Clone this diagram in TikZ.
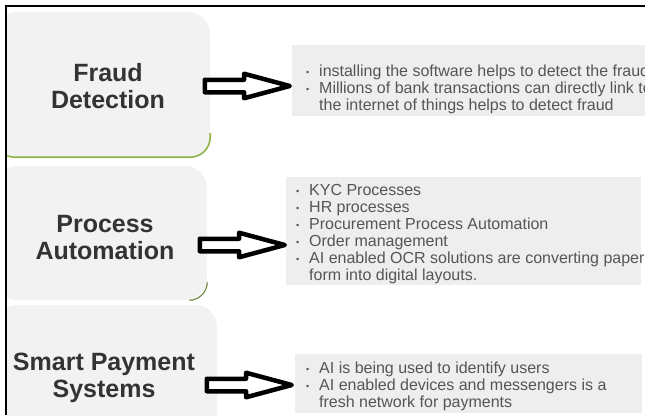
\documentclass[tikz,border=0pt]{standalone}
\usepackage{fontspec}
\setmainfont{Liberation Sans}
\usetikzlibrary{positioning,shapes.arrows}
\definecolor{boxgray}{HTML}{F2F2F2}
\definecolor{listgray}{HTML}{EEEEEE}
\definecolor{titlegray}{HTML}{333333}
\definecolor{textgray}{HTML}{555555}
\definecolor{edgegreen}{HTML}{8DB34A}
\newcommand{\bul}{\makebox[13pt][l]{\raisebox{0.1ex}{\small\textbullet}}}
\newcommand{\ind}{\hspace*{13pt}}

\begin{document}
\begin{tikzpicture}[x=1pt,y=-1pt]
  % 定义样式
  \tikzset{catbox/.style = {fill=boxgray, rounded corners=22pt, inner sep=0pt}}
  \tikzset{cattitle/.style = {text=titlegray, align=center, inner sep=0pt, font=\fontsize{25}{27}\selectfont\bfseries}}
  \tikzset{listbox/.style = {fill=listgray, inner sep=0pt}}
  \tikzset{listtext/.style = {anchor=west, align=left, inner sep=0pt, text=textgray, font=\fontsize{16}{17.1}\selectfont}}
  \tikzset{flow/.style = {single arrow, draw=black, fill=white, line width=4.5pt, line join=round, minimum height=85pt, inner sep=4pt, outer sep=0pt, single arrow head extend=6pt, single arrow tip angle=30, pos=1, anchor=tip}}
  \tikzset{greenedge/.style = {draw=edgegreen, line width=1.6pt}}

  \useasboundingbox (0,0) rectangle (645,415);

  \begin{scope}
  \clip (7,7) rectangle (645,415);

  % 左侧方框
  \node[catbox, minimum width=215pt, minimum height=145pt] (fraud) at (102.5,84.5) {};
  \node[catbox, minimum width=212pt, minimum height=134pt] (process) at (101,233) {};
  \node[catbox, minimum width=222pt, minimum height=146pt] (payment) at (106,378) {};

  \draw[greenedge, rounded corners=20pt] ([yshift=24pt]fraud.south west) -- (fraud.south west) -- (fraud.south east) -- ([yshift=24pt]fraud.south east);
  \draw[greenedge, draw=edgegreen!70!black, line width=1pt, rounded corners=18pt] ([yshift=14pt]process.south east) -- (process.south east) -- ([xshift=-14pt]process.south east);

  \node[cattitle] (fraudtitle) at (108,86) {Fraud\\Detection};
  \node[cattitle] (processtitle) at (105,238) {Process\\Automation};
  \node[cattitle] (paymenttitle) at (104,378) {Smart Payment\\Systems};

  % 右侧列表
  \node[listbox, minimum width=368pt, minimum height=71pt] (fraudlist) at (476,80.5) {};
  \node[listbox, minimum width=355pt, minimum height=108pt] (processlist) at (463.5,231) {};
  \node[listbox, minimum width=347pt, minimum height=59pt] (paymentlist) at (468.5,383.5) {};

  \node[listtext] (fraudtext) at (306,89.5) {
    \bul installing the software helps to detect the fraud\\
    \bul Millions of bank transactions can directly link to\\
    \ind the internet of things helps to detect fraud
  };
  \node[listtext] (processtext) at (296,234) {
    \bul KYC Processes\\
    \bul HR processes\\
    \bul Procurement Process Automation\\
    \bul Order management\\
    \bul AI enabled OCR solutions are converting paper\\
    \ind form into digital layouts.
  };
  \node[listtext] (paymenttext) at (306,386) {
    \bul AI is being used to identify users\\
    \bul AI enabled devices and messengers is a\\
    \ind fresh network for payments
  };

  % 箭头
  \path ([xshift=-4pt,yshift=-1.5pt]fraud.east) coordinate (fa) -- node[flow] {} ([xshift=-2pt]fa -| fraudlist.west);
  \path ([xshift=-6pt,yshift=-12pt]process.east) coordinate (pa) -- node[flow] {} ([xshift=-1pt]pa -| processlist.west);
  \path ([xshift=-14pt,yshift=-7pt]payment.east) coordinate (sa) -- node[flow] {} ([xshift=-3pt]sa -| paymentlist.west);
  \end{scope}

  % 边框
  \draw[line width=2pt] (6,415) -- (6,6) -- (645,6);
\end{tikzpicture}
\end{document}
